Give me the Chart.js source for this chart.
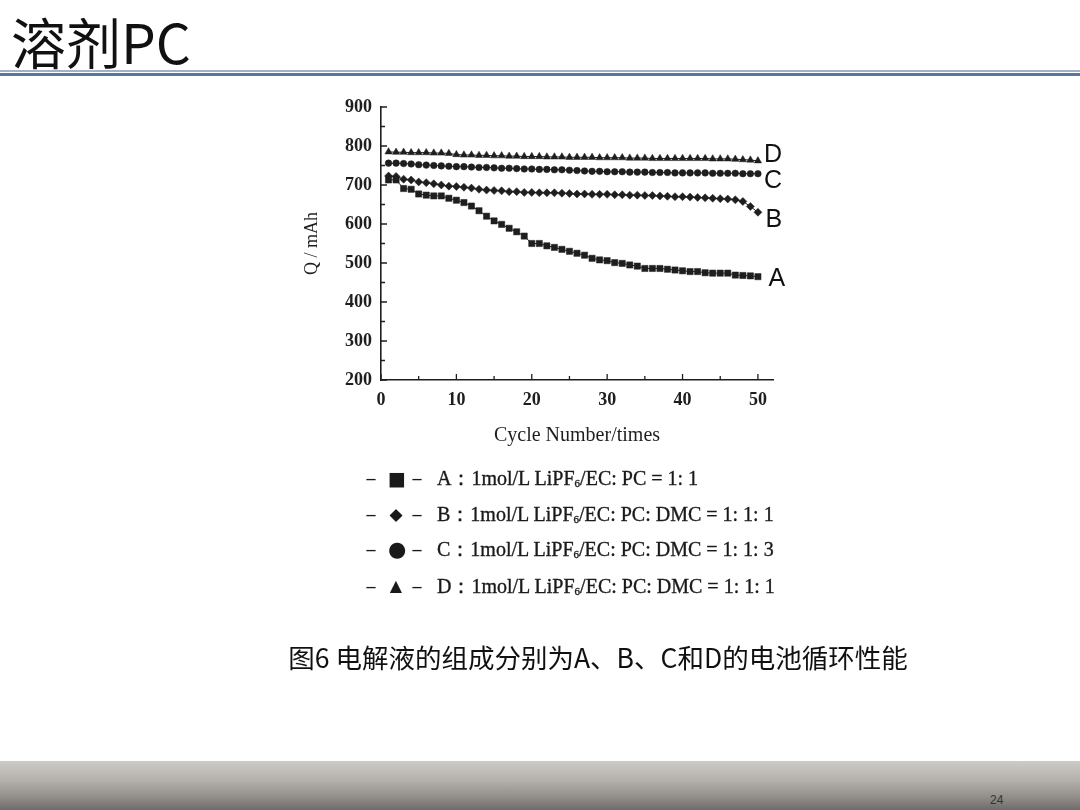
<!DOCTYPE html>
<html>
<head>
<meta charset="utf-8">
<script src="https://cdn.jsdelivr.net/npm/chart.js@4.4.1/dist/chart.umd.min.js"></script>
<style>
  html, body { margin:0; padding:0; background:#fff; }
  #page { position:relative; width:1080px; height:810px; overflow:hidden; background:#fff; }
  #title { position:absolute; left:11px; top:9px; font-family:"Noto Sans CJK SC","Noto Sans",sans-serif; font-weight:400; font-size:55px; line-height:62px; color:#111; letter-spacing:0px; }
  #rule1 { position:absolute; left:0; top:70px; width:1080px; height:2px; background:#9fb2c8; }
  #rule2 { position:absolute; left:0; top:73px; width:1080px; height:3px; background:#56779f; }
  #chartWrap { position:absolute; left:0; top:0; width:1080px; height:810px; }
  #legend { position:absolute; left:0; top:0; font-family:"Liberation Serif","DejaVu Serif",serif; font-size:20px; color:#1a1a1a; }
  .row { position:absolute; left:366px; height:24px; line-height:24px; white-space:nowrap; }
  .dash { position:absolute; top:0; width:10px; text-align:center; font-size:18px; font-weight:bold; }
  .mk { position:absolute; top:0; width:16px; text-align:center; font-family:"DejaVu Sans",sans-serif; }
  .txt { position:absolute; left:71px; top:0; -webkit-text-stroke:0.35px #1a1a1a; }
  .txt sub { font-size:11px; vertical-align:-2px; }
  #caption { position:absolute; left:198px; width:800px; top:639px; text-align:center; font-family:"Noto Sans CJK SC","Noto Sans",sans-serif; font-size:26.5px; line-height:36px; color:#111; }
  #bar { position:absolute; left:0; top:761px; width:1080px; height:49px; background:linear-gradient(to bottom,#cdcbc5 0%,#b4b1ac 40%,#8f8c89 75%,#6e6c6a 100%); }
  #pnum { position:absolute; left:990px; top:793px; font-family:"Liberation Sans Narrow","Liberation Sans",sans-serif; font-size:12px; color:#333; }
</style>
</head>
<body>
<div id="page">
  <div id="title">溶剂PC</div>
  <div id="rule1"></div>
  <div id="rule2"></div>
  <div id="chartWrap"><canvas id="c" width="1080" height="810"></canvas></div>
  <div id="legend"></div>
  <div id="caption">图6 电解液的组成分别为A、B、C和D的电池循环性能</div>
  <div id="bar"></div>
  <div id="pnum">24</div>
</div>
<script>
// ---- data ----
const cycles = [1,2,3,4,5,6,7,8,9,10,11,12,13,14,15,16,17,18,19,20,21,22,23,24,25,26,27,28,29,30,31,32,33,34,35,36,37,38,39,40,41,42,43,44,45,46,47,48,49,50];
const seriesA = [713,713,691,689,677,674,672,672,666,661,655,646,634,620,608,599,589,580,569,550,550,544,540,535,530,525,520,512,508,506,501,499,495,492,486,486,486,484,482,480,478,478,475,474,474,474,469,468,467,465];
const seriesB = [723,722,715,713,708,706,703,700,697,696,694,692,689,687,686,685,683,683,681,681,680,680,680,679,678,677,677,676,676,676,675,675,674,674,673,673,672,671,670,670,669,668,667,666,665,664,662,658,645,630];
const seriesC = [756,756,755,754,752,751,750,749,748,747,747,746,745,745,744,743,743,742,741,741,740,740,739,739,738,737,736,735,735,734,734,734,733,733,733,732,732,732,731,731,731,731,731,730,730,730,730,729,729,729];
const seriesD = [785,784,784,783,783,783,782,782,781,778,777,777,776,776,775,775,774,774,773,773,773,772,772,772,771,771,771,771,770,770,770,770,769,769,769,768,768,768,768,768,768,768,768,767,767,767,766,765,764,762];
const seriesNames = ['A','B','C','D'];
const legendTexts = [
  'A：1mol/L LiPF6/EC: PC = 1: 1',
  'B：1mol/L LiPF6/EC: PC: DMC = 1: 1: 1',
  'C：1mol/L LiPF6/EC: PC: DMC = 1: 1: 3',
  'D：1mol/L LiPF6/EC: PC: DMC = 1: 1: 1'
];
const xTickLabels = [0,10,20,30,40,50];
const xMinorTicks = [5,15,25,35,45];
const yTickLabels = [200,300,400,500,600,700,800,900];
const yMinorTicks = [250,350,450,550,650,750,850];
const xTitle = 'Cycle Number/times';
const yTitle = 'Q / mAh';

// ---- styles ----
const ink = '#1e1e1e';
const markerStyles = ['rect','rectRot','circle','triangle'];
const markerRadius = [4.4,4.0,3.3,4.2];
const endLabelDy = [2,8,7,-6];
const endLabelDx = [19,16,15,15];
const legendMarks = ['■','◆','●','▲'];
const legendMarkSize = [19,17,21,16];
const legendRowTop = [466,502,537,574];

function pts(arr){ return cycles.map((c,i)=>({x:c,y:arr[i]})); }
const allSeries = [seriesA,seriesB,seriesC,seriesD];

const datasets = allSeries.map((s,i)=>({
  label: seriesNames[i],
  data: pts(s),
  borderColor: ink,
  backgroundColor: ink,
  borderWidth: 1,
  pointStyle: markerStyles[i],
  pointRadius: markerRadius[i],
  pointBorderWidth: 0.5,
  pointBackgroundColor: ink,
  pointBorderColor: ink,
  tension: 0,
  fill: false
}));

const innerTicks = {
  id:'innerTicks',
  afterDraw(chart){
    const ctx = chart.ctx, xs = chart.scales.x, ys = chart.scales.y;
    const a = chart.chartArea;
    ctx.save();
    ctx.strokeStyle = ink; ctx.lineWidth = 1.3;
    ctx.beginPath();
    xTickLabels.forEach(v=>{ const p=xs.getPixelForValue(v); ctx.moveTo(p,a.bottom); ctx.lineTo(p,a.bottom-6); });
    xMinorTicks.forEach(v=>{ const p=xs.getPixelForValue(v); ctx.moveTo(p,a.bottom); ctx.lineTo(p,a.bottom-4); });
    yTickLabels.forEach(v=>{ const p=ys.getPixelForValue(v); ctx.moveTo(a.left,p); ctx.lineTo(a.left+6,p); });
    yMinorTicks.forEach(v=>{ const p=ys.getPixelForValue(v); ctx.moveTo(a.left,p); ctx.lineTo(a.left+4,p); });
    ctx.stroke();
    // end labels (series names next to last points)
    ctx.fillStyle = '#111';
    ctx.font = '25px "Liberation Sans Narrow", "Liberation Sans", Arial, sans-serif';
    ctx.textAlign = 'center'; ctx.textBaseline = 'middle';
    chart.data.datasets.forEach((ds,i)=>{
      const last = ds.data[ds.data.length-1];
      const px = xs.getPixelForValue(last.x)+endLabelDx[i];
      const py = ys.getPixelForValue(last.y)+endLabelDy[i];
      ctx.fillText(ds.label, px, py);
    });
    ctx.restore();
  }
};

Chart.defaults.font.family = '"Liberation Serif", "DejaVu Serif", serif';
Chart.defaults.color = ink;

new Chart(document.getElementById('c'), {
  type:'line',
  data:{ datasets },
  options:{
    responsive:false,
    animation:false,
    layout:{ padding:{ left:298, right:307, top:107, bottom:362 } },
    plugins:{ legend:{display:false}, tooltip:{enabled:false} },
    scales:{
      x:{
        type:'linear', min:0, max:52,
        afterBuildTicks(s){ s.ticks = xTickLabels.map(v=>({value:v})); },
        afterFit(s){ s.height = 68; },
        grid:{ display:false, drawTicks:false },
        border:{ display:true, color:ink, width:1.6 },
        ticks:{ padding:10, font:{size:18, weight:'bold'}, color:ink },
        title:{ display:true, text:xTitle, font:{size:20}, color:ink, padding:{top:19,bottom:0} }
      },
      y:{
        type:'linear', min:200, max:900,
        afterBuildTicks(s){ s.ticks = yTickLabels.map(v=>({value:v})); },
        afterFit(s){ s.width = 83; },
        grid:{ display:false, drawTicks:false },
        border:{ display:true, color:ink, width:1.6 },
        ticks:{ padding:9, font:{size:18, weight:'bold'}, color:ink },
        title:{ display:true, text:yTitle, font:{size:18}, color:ink, padding:{top:3,bottom:0} }
      }
    }
  },
  plugins:[innerTicks]
});

// ---- HTML legend built from the series names / texts ----
const lg = document.getElementById('legend');
legendTexts.forEach((t,i)=>{
  const row = document.createElement('div');
  row.className='row';
  row.style.top = legendRowTop[i]+'px';
  const html = t.replace('LiPF6','LiPF<sub>6</sub>');
  row.innerHTML =
    '<span class="dash" style="left:0">–</span>'+
    '<span class="mk" style="left:22px;font-size:'+legendMarkSize[i]+'px">'+legendMarks[i]+'</span>'+
    '<span class="dash" style="left:46px">–</span>'+
    '<span class="txt">'+html+'</span>';
  lg.appendChild(row);
});
</script>
</body>
</html>
